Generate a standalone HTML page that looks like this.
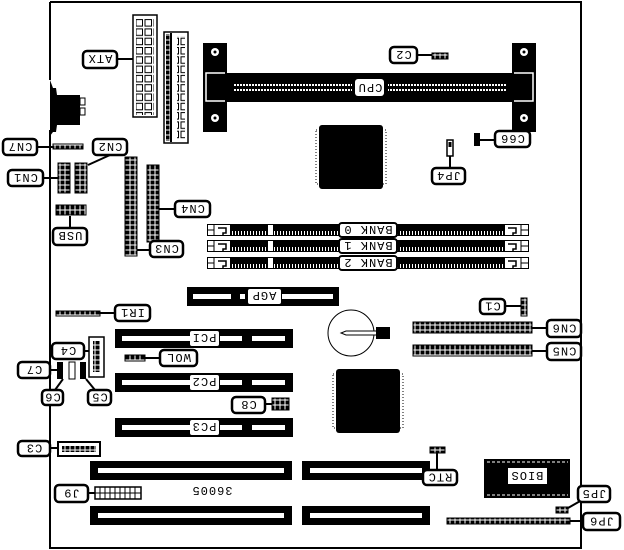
<!DOCTYPE html>
<html><head><meta charset="utf-8"><style>
html,body{margin:0;padding:0;background:#fff}
svg{display:block}
text{font-family:"Liberation Mono","DejaVu Sans Mono",monospace;font-size:12px;letter-spacing:1px}
</style></head><body>
<svg width="624" height="550" viewBox="0 0 624 550" xmlns="http://www.w3.org/2000/svg">
<defs>
<pattern id="pin" x="0" y="0" width="5" height="5" patternUnits="userSpaceOnUse"><rect width="5" height="5" fill="#fff"/><rect x="0.5" y="0.5" width="4" height="4" fill="#000"/></pattern>
<pattern id="sq" x="0" y="0" width="9" height="9.3" patternUnits="userSpaceOnUse"><rect x="1" y="1" width="6.5" height="6.5" fill="#fff" stroke="#000" stroke-width="1"/></pattern>
<pattern id="dots" x="0" y="0" width="3" height="4" patternUnits="userSpaceOnUse"><rect width="2" height="3" fill="#fff"/></pattern>
<pattern id="bdots" x="0" y="0" width="3" height="12" patternUnits="userSpaceOnUse"><rect width="3" height="12" fill="#000"/><rect x="1" y="3" width="1" height="5" fill="#fff"/></pattern>
</defs>
<!-- board -->
<path d="M50,2 H581 V548 H50 V130" fill="none" stroke="#000" stroke-width="2"/>
<line x1="50" y1="2" x2="50" y2="80" stroke="#000" stroke-width="2"/>
<!-- audio blob -->
<path d="M50,80 L53,88 L56,88 L57,95 L80,95 L80,125 L57,125 L56,132 L53,132 L50,136 Z" fill="#000"/>
<rect x="80" y="98" width="5" height="7" fill="#fff" stroke="#000"/>
<rect x="80" y="108" width="5" height="7" fill="#fff" stroke="#000"/>

<!-- ATX -->
<rect x="133" y="15" width="24" height="102" fill="#fff" stroke="#000" stroke-width="1.5"/>
<rect x="136" y="18" width="18" height="97" fill="url(#sq)"/>
<rect x="164" y="32" width="24" height="111" fill="#fff" stroke="#000" stroke-width="1.5"/>
<line x1="171" y1="33" x2="171" y2="142" stroke="#000" stroke-width="2"/>
<rect x="166" y="34" width="4" height="107" fill="url(#pin)"/>
<rect x="177" y="36" width="8" height="104" fill="url(#sq)"/>

<!-- CPU slot -->
<rect x="203" y="43" width="24" height="89" fill="#000"/>
<rect x="512" y="43" width="24" height="89" fill="#000"/>
<rect x="203" y="73" width="333" height="29" fill="#000"/>
<path d="M225,73 H206 V101 H225" fill="none" stroke="#fff" stroke-width="1.5"/>
<path d="M514,73 H533 V101 H514" fill="none" stroke="#fff" stroke-width="1.5"/>
<circle cx="215" cy="52" r="4" fill="#fff"/><circle cx="215" cy="52" r="1.5" fill="#000"/>
<circle cx="215" cy="118" r="4" fill="#fff"/><circle cx="215" cy="118" r="1.5" fill="#000"/>
<circle cx="524" cy="52" r="4" fill="#fff"/><circle cx="524" cy="52" r="1.5" fill="#000"/>
<circle cx="524" cy="118" r="4" fill="#fff"/><circle cx="524" cy="118" r="1.5" fill="#000"/>
<rect x="233" y="83" width="119" height="3" fill="url(#dots)"/>
<rect x="233" y="89" width="119" height="3" fill="url(#dots)"/>
<rect x="388" y="83" width="118" height="3" fill="url(#dots)"/>
<rect x="388" y="89" width="118" height="3" fill="url(#dots)"/>
<rect x="355" y="79" width="29" height="17" rx="3" fill="#fff"/>
<text transform="rotate(180 370 88)" x="370" y="92" text-anchor="middle">CPU</text>

<!-- chips -->
<rect x="319" y="125" width="64" height="64" rx="3" fill="#000"/>
<rect x="316" y="130" width="70" height="54" fill="none" stroke="#000" stroke-dasharray="1 2"/>
<rect x="336" y="369" width="64" height="64" rx="3" fill="#000"/>
<rect x="333" y="374" width="70" height="54" fill="none" stroke="#000" stroke-dasharray="1 2"/>

<!-- memory banks -->
<g id="bank">
<rect x="207.5" y="224.5" width="321" height="11" fill="#fff" stroke="#000" stroke-width="1"/>
<line x1="214" y1="224" x2="214" y2="236" stroke="#000"/><line x1="207" y1="230" x2="214" y2="230" stroke="#000"/>
<path d="M218,228 h8 v5 h-3 v3" fill="none" stroke="#000" stroke-width="1.5"/>
<rect x="230" y="225" width="38" height="10" fill="url(#bdots)"/>
<rect x="273" y="225" width="67" height="10" fill="url(#bdots)"/>
<rect x="397" y="225" width="108" height="10" fill="url(#bdots)"/>
<path d="M508,228 h8 v5 h-3 v3" fill="none" stroke="#000" stroke-width="1.5"/>
<line x1="521" y1="224" x2="521" y2="236" stroke="#000"/><line x1="521" y1="230" x2="529" y2="230" stroke="#000"/>
</g>
<use href="#bank" y="16"/>
<use href="#bank" y="33"/>
<g fill="#fff" stroke="#000" stroke-width="2">
<rect x="339" y="223" width="58" height="14" rx="3"/>
<rect x="339" y="239" width="58" height="14" rx="3"/>
<rect x="339" y="256" width="58" height="14" rx="3"/>
</g>
<text transform="rotate(180 368 230)" x="368" y="234" text-anchor="middle" letter-spacing="4">BANK 0</text>
<text transform="rotate(180 368 246)" x="368" y="250" text-anchor="middle" letter-spacing="4">BANK 1</text>
<text transform="rotate(180 368 263)" x="368" y="267" text-anchor="middle" letter-spacing="4">BANK 2</text>

<!-- headers -->
<rect x="53" y="144" width="30" height="5" fill="url(#pin)" stroke="#000"/>
<rect x="58" y="163" width="12" height="30" fill="url(#pin)" stroke="#000"/>
<rect x="75" y="163" width="12" height="30" fill="url(#pin)" stroke="#000"/>
<rect x="56" y="205" width="30" height="10" fill="url(#pin)" stroke="#000"/>
<rect x="125" y="157" width="12" height="99" fill="url(#pin)" stroke="#000"/>
<rect x="147" y="165" width="12" height="77" fill="url(#pin)" stroke="#000"/>
<rect x="432" y="53" width="16" height="6" fill="url(#pin)" stroke="#000"/>
<rect x="474" y="133" width="6" height="13" fill="#000"/>
<rect x="447" y="140" width="6" height="16" fill="#fff" stroke="#000" stroke-width="1.5"/><rect x="448.5" y="142" width="3" height="5" fill="#000"/>
<rect x="56" y="311" width="44" height="5" fill="url(#pin)" stroke="#000"/>
<rect x="89" y="337" width="15" height="40" fill="#fff" stroke="#000" stroke-width="1.5"/>
<rect x="93" y="341" width="7" height="31" fill="url(#pin)"/>
<rect x="57" y="362" width="6" height="17" fill="#000"/><rect x="69" y="362" width="6" height="17" fill="#fff" stroke="#000"/><rect x="80" y="362" width="6" height="17" fill="#000"/>
<rect x="125" y="355" width="20" height="6" fill="url(#pin)" stroke="#000"/>
<rect x="272" y="398" width="17" height="12" fill="url(#pin)" stroke="#000"/>
<rect x="58" y="442" width="42" height="14" fill="#fff" stroke="#000" stroke-width="2"/>
<rect x="62" y="446" width="34" height="6" fill="url(#pin)"/>
<rect x="95" y="487" width="46" height="12" fill="#fff" stroke="#000" stroke-width="1.5"/>
<path d="M100,487 v12 M105,487 v12 M110,487 v12 M115,487 v12 M120,487 v12 M125,487 v12 M130,487 v12 M135,487 v12 M95,493 h46" stroke="#000"/>
<rect x="521" y="298" width="6" height="18" fill="url(#pin)" stroke="#000"/>
<rect x="413" y="322" width="119" height="11" fill="url(#pin)" stroke="#000"/>
<rect x="413" y="345" width="119" height="11" fill="url(#pin)" stroke="#000"/>
<rect x="430" y="447" width="15" height="6" fill="url(#pin)" stroke="#000"/>
<rect x="556" y="507" width="12" height="6" fill="url(#pin)" stroke="#000"/>
<rect x="447" y="518" width="123" height="6" fill="url(#pin)" stroke="#000"/>

<!-- battery -->
<circle cx="351" cy="333" r="23" fill="#fff" stroke="#000" stroke-width="1"/>
<rect x="376" y="327" width="14" height="12" fill="#000"/>
<path d="M376,331 H346 L341,333 L346,335 H376" fill="#fff" stroke="#000"/>

<!-- AGP / PCI / ISA -->
<rect x="187" y="287" width="152" height="19" fill="#000"/>
<rect x="193" y="294" width="38" height="5" fill="#fff"/><rect x="240" y="294" width="5" height="5" fill="#fff"/><rect x="282" y="294" width="51" height="5" fill="#fff"/>
<rect x="248" y="289" width="33" height="15" rx="2" fill="#fff"/>
<text transform="rotate(180 264 296)" x="264" y="300" text-anchor="middle">AGP</text>
<g id="pci">
<rect x="115" y="329" width="178" height="19" fill="#000"/>
<rect x="122" y="336" width="68" height="5" fill="#fff"/><rect x="220" y="336" width="22" height="5" fill="#fff"/><rect x="252" y="336" width="33" height="5" fill="#fff"/>
<rect x="190" y="331" width="29" height="15" rx="2" fill="#fff"/>
</g>
<use href="#pci" y="44"/><use href="#pci" y="89"/>
<text transform="rotate(180 204 338)" x="204" y="342" text-anchor="middle">PCI</text>
<text transform="rotate(180 204 382)" x="204" y="386" text-anchor="middle">PC2</text>
<text transform="rotate(180 204 427)" x="204" y="431" text-anchor="middle">PC3</text>
<g fill="#000">
<rect x="90" y="461" width="202" height="19"/><rect x="90" y="506" width="202" height="19"/>
<rect x="302" y="461" width="128" height="19"/><rect x="302" y="506" width="128" height="19"/>
</g>
<g fill="#fff">
<rect x="98" y="468" width="186" height="5"/><rect x="98" y="513" width="186" height="5"/>
<rect x="310" y="468" width="112" height="5"/><rect x="310" y="513" width="112" height="5"/>
</g>
<text transform="rotate(180 212 491)" x="212" y="495" text-anchor="middle" font-size="11">36005</text>

<!-- BIOS -->
<rect x="484" y="459" width="86" height="39" fill="#000"/>
<line x1="487" y1="462" x2="568" y2="462" stroke="#fff" stroke-dasharray="3 2"/>
<line x1="487" y1="495" x2="568" y2="495" stroke="#fff" stroke-dasharray="3 2"/>
<rect x="508" y="468" width="39" height="16" fill="#fff"/>
<text transform="rotate(180 527 476)" x="527" y="480" text-anchor="middle" letter-spacing="2">BIOS</text>

<!-- leader lines -->
<g stroke="#000" stroke-width="2" fill="none">
<path d="M117,59 H133"/><path d="M417,55 H432"/><path d="M480,140 H495"/><path d="M450,156 V168"/>
<path d="M37,147 H53"/><path d="M110,155 L88,165"/><path d="M43,178 H58"/><path d="M70,216 V228"/>
<path d="M159,209 H175"/><path d="M137,250 H150"/><path d="M100,313 H115"/><path d="M84,351 H89"/>
<path d="M50,370 H57"/><path d="M63,379 L55,390"/><path d="M86,379 L95,390"/><path d="M145,358 H160"/>
<path d="M265,404 H272"/><path d="M50,448 H58"/><path d="M88,493 H95"/>
<path d="M505,306 H521"/><path d="M532,328 H547"/><path d="M532,351 H547"/><path d="M437,453 L437,470"/>
<path d="M568,508 L582,500"/><path d="M570,521 H583"/>
</g>

<!-- labels -->
<g fill="#fff" stroke="#000" stroke-width="2.5">
<rect x="83" y="51" width="34" height="17" rx="4"/>
<rect x="390" y="47" width="27" height="16" rx="4"/>
<rect x="495" y="131" width="35" height="16" rx="4"/>
<rect x="432" y="168" width="33" height="16" rx="4"/>
<rect x="3" y="139" width="34" height="16" rx="4"/>
<rect x="93" y="139" width="34" height="16" rx="4"/>
<rect x="8" y="170" width="35" height="16" rx="4"/>
<rect x="53" y="228" width="34" height="17" rx="4"/>
<rect x="175" y="201" width="35" height="16" rx="4"/>
<rect x="150" y="241" width="33" height="16" rx="4"/>
<rect x="115" y="305" width="35" height="16" rx="4"/>
<rect x="52" y="343" width="32" height="16" rx="4"/>
<rect x="18" y="362" width="32" height="16" rx="4"/>
<rect x="42" y="390" width="21" height="15" rx="4"/>
<rect x="88" y="390" width="23" height="15" rx="4"/>
<rect x="160" y="350" width="37" height="16" rx="4"/>
<rect x="232" y="397" width="33" height="16" rx="4"/>
<rect x="18" y="441" width="32" height="15" rx="4"/>
<rect x="55" y="485" width="33" height="17" rx="4"/>
<rect x="480" y="299" width="25" height="15" rx="4"/>
<rect x="547" y="320" width="34" height="17" rx="4"/>
<rect x="547" y="343" width="34" height="17" rx="4"/>
<rect x="423" y="470" width="34" height="15" rx="4"/>
<rect x="578" y="486" width="32" height="16" rx="4"/>
<rect x="583" y="513" width="37" height="17" rx="4"/>
</g>
<g text-anchor="middle" letter-spacing="2">
<text transform="rotate(180 100 59.5)" x="100" y="64">ATX</text>
<text transform="rotate(180 403.5 55)" x="403.5" y="59">C2</text>
<text transform="rotate(180 512.5 139)" x="512.5" y="143">C66</text>
<text transform="rotate(180 448.5 176)" x="448.5" y="180">JP4</text>
<text transform="rotate(180 20 147)" x="20" y="151">CN7</text>
<text transform="rotate(180 110 147)" x="110" y="151">CN2</text>
<text transform="rotate(180 25.5 178)" x="25.5" y="182">CN1</text>
<text transform="rotate(180 70 236.5)" x="70" y="241">USB</text>
<text transform="rotate(180 192.5 209)" x="192.5" y="213">CN4</text>
<text transform="rotate(180 166.5 249)" x="166.5" y="253">CN3</text>
<text transform="rotate(180 132.5 313)" x="132.5" y="317">IR1</text>
<text transform="rotate(180 68 351)" x="68" y="355">C4</text>
<text transform="rotate(180 34 370)" x="34" y="374">C7</text>
<text transform="rotate(180 52.5 397.5)" x="52.5" y="401.5" letter-spacing="0">C6</text>
<text transform="rotate(180 99.5 397.5)" x="99.5" y="401.5" letter-spacing="0">C5</text>
<text transform="rotate(180 178.5 358)" x="178.5" y="362">WOL</text>
<text transform="rotate(180 248.5 405)" x="248.5" y="409">C8</text>
<text transform="rotate(180 34 448.5)" x="34" y="452.5">C3</text>
<text transform="rotate(180 71.5 493.5)" x="71.5" y="497.5">J9</text>
<text transform="rotate(180 492.5 306.5)" x="492.5" y="310.5" letter-spacing="0">C1</text>
<text transform="rotate(180 564 328.5)" x="564" y="332.5">CN6</text>
<text transform="rotate(180 564 351.5)" x="564" y="355.5">CN5</text>
<text transform="rotate(180 440 477.5)" x="440" y="481.5">RTC</text>
<text transform="rotate(180 594 494)" x="594" y="498">JP5</text>
<text transform="rotate(180 601.5 521.5)" x="601.5" y="525.5">JP6</text>
</g>
</svg>
</body></html>
